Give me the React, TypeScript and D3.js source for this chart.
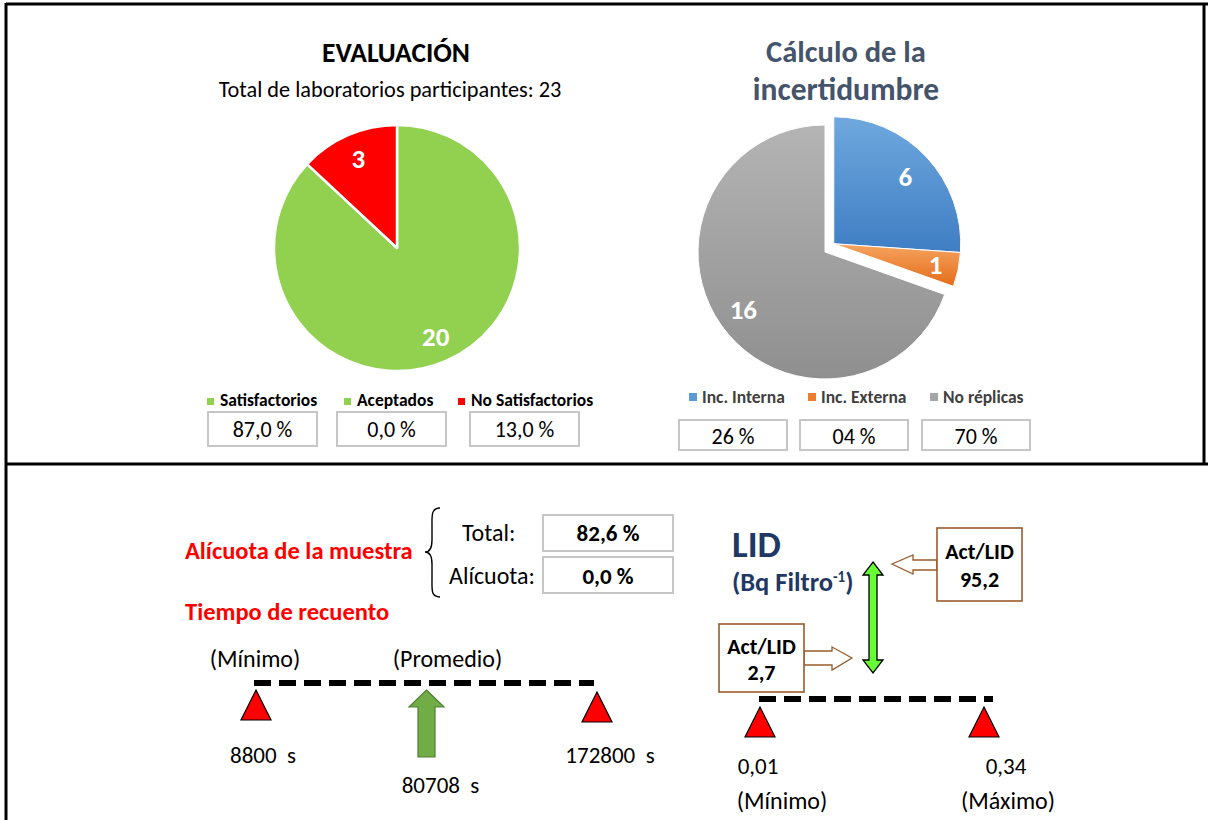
import React from 'react'
import * as d3 from 'd3'

const FONT = 'Calibri, Carlito, Lato, sans-serif'

// Evaluación
const evalCategories = ['Satisfactorios', 'Aceptados', 'No Satisfactorios']
const evalCounts = [20, 0, 3]
const evalColors = ['#92d050', '#92d050', '#ff0000']
const evalPercents = ['87,0 %', '0,0 %', '13,0 %']

// Cálculo de la incertidumbre
const incCategories = ['Inc. Interna', 'Inc. Externa', 'No réplicas']
const incCounts = [6, 1, 16]
const incColors = [['#6fa8de', '#3f7ec4'], ['#f6a460', '#e46c1a'], ['#b4b4b4', '#8f8f8f']]
const incLegend = ['#5b9bd5', '#ed7d31', '#a5a5a5']
const incPercents = ['26 %', '04 %', '70 %']

// Alícuota de la muestra
const aliquotLabels = ['Total:', 'Alícuota:']
const aliquotValues = ['82,6 %', '0,0 %']

// Tiempo de recuento
const timeKeys = ['Mínimo', 'Promedio', 'Máximo']
const timeValues = [8800, 80708, 172800]
const timeTitles = ['(Mínimo)', '(Promedio)', '']

// LID
const lidNumbers = [0.01, 0.34]
const lidLabels = ['0,01', '0,34']
const lidTitles = ['(Mínimo)', '(Máximo)']
const actLidValues = ['2,7', '95,2']

const NAVY = '#1f3864'
const BROWN = '#9a5a2a'

const App = () => {
  const pie = d3.pie<number>().sort(null).value(d => d)

  // pie 1
  const c1 = { x: 397, y: 248 }
  const r1 = 123
  const arc1 = d3.arc<d3.PieArcDatum<number>>().innerRadius(0).outerRadius(r1)
  const lab1 = d3.arc<d3.PieArcDatum<number>>().innerRadius(97).outerRadius(97)
  const evalArcs = pie(evalCounts)
  const total = d3.sum(evalCounts)

  // pie 2
  const c2 = { x: 825, y: 252 }
  const r2 = 127
  const arc2 = d3.arc<d3.PieArcDatum<number>>().innerRadius(0).outerRadius(r2)
  const incArcs = pie(incCounts)
  const mid0 = (incArcs[0].startAngle + incArcs[0].endAngle) / 2
  const explode = { dx: Math.sin(mid0) * 12, dy: -Math.cos(mid0) * 12 }
  const lab2r = [98, 104, 100]

  // time scale (schematic)
  const xTime = d3.scalePoint<string>().domain(timeKeys).range([256, 597])
  const timeY = 683
  const timeDx = [7, 14, 13]
  const timeLy = [763, 793, 763]
  const titleDx = [-1, 21, 0]

  // LID scale
  const xLid = d3.scaleLinear().domain([lidNumbers[0], lidNumbers[1]]).range([760, 984])
  const lidY = 699
  const lidDx = [-2, 22]

  const tri = (x: number, top: number) => `M${x},${top} L${x + 15},${top + 30} L${x - 15},${top + 30} Z`

  const px = xTime('Promedio') as number
  const upArrow = `M${px},690 L${px + 17.5},707 L${px + 8.5},707 L${px + 8.5},757 L${px - 8.5},757 L${px - 8.5},707 L${px - 17.5},707 Z`

  const dax = 873, dTop = 562, dBot = 673
  const dblArrow = `M${dax},${dTop} L${dax + 10},${dTop + 13} L${dax + 4},${dTop + 13} L${dax + 4},${dBot - 13} L${dax + 10},${dBot - 13} L${dax},${dBot} L${dax - 10},${dBot - 13} L${dax - 4},${dBot - 13} L${dax - 4},${dTop + 13} L${dax - 10},${dTop + 13} Z`

  const leftArrow = 'M892,564 L913,555 L913,560 L937,560 L937,570 L913,570 L913,574 Z'
  const rightArrow = 'M852,658 L832,647 L832,651 L804,651 L804,665 L832,665 L832,670 Z'

  const legend1X = [207, 344, 458]
  const box1X = [208, 337, 470]
  const legend2X = [689, 808, 930]
  const box2X = [679, 800, 922]

  return (
    <svg width={1208} height={820} style={{ position: 'absolute', left: 0, top: 0, background: '#fff' }} fontFamily={FONT}>
      <defs>
        {incColors.map((c, i) => (
          <linearGradient key={i} id={`g${i}`} x1="0" y1="0" x2="0" y2="1">
            <stop offset="0" stopColor={c[0]} />
            <stop offset="1" stopColor={c[1]} />
          </linearGradient>
        ))}
      </defs>

      {/* frame */}
      <g stroke="#000" strokeWidth={3}>
        <line x1={6} y1={4} x2={1208} y2={4} />
        <line x1={6} y1={3} x2={6} y2={820} />
        <line x1={1204} y1={3} x2={1204} y2={464} />
        <line x1={6} y1={464} x2={1208} y2={464} />
      </g>

      {/* EVALUACIÓN */}
      <text x={396} y={62} textAnchor="middle" fontSize={27.5} fontWeight="bold" fill="#000">EVALUACIÓN</text>
      <text x={390} y={97} textAnchor="middle" fontSize={22.3} fill="#000">Total de laboratorios participantes: {total}</text>
      <g transform={`translate(${c1.x},${c1.y})`}>
        {evalArcs.filter(d => d.value > 0).map(d => (
          <path key={d.index} d={arc1(d) as string} fill={evalColors[d.index]} stroke="#fff" strokeWidth={2.5} strokeLinejoin="round" />
        ))}
        {evalArcs.filter(d => d.value > 0).map(d => {
          const [lx, ly] = lab1.centroid(d)
          return (
            <text key={d.index} x={lx} y={ly} textAnchor="middle" dy="0.35em" fontSize={27} fontWeight="bold" fill="#fff">{d.value}</text>
          )
        })}
      </g>
      {evalCategories.map((c, i) => (
        <g key={c}>
          <rect x={legend1X[i]} y={398} width={7} height={7} fill={evalColors[i]} />
          <text x={legend1X[i] + 13} y={406} fontSize={17.5} fontWeight="bold" fill="#000">{c}</text>
          <rect x={box1X[i]} y={412} width={109} height={34} fill="#fff" stroke="#c6c6c6" strokeWidth={2} />
          <text x={box1X[i] + 54.5} y={437} textAnchor="middle" fontSize={22} fill="#000">{evalPercents[i]}</text>
        </g>
      ))}

      {/* Cálculo de la incertidumbre */}
      <text x={846} y={62} textAnchor="middle" fontSize={30.5} fontWeight="bold" fill="#44546a">Cálculo de la</text>
      <text x={846} y={100} textAnchor="middle" fontSize={31.5} fontWeight="bold" fill="#44546a">incertidumbre</text>
      <g transform={`translate(${c2.x},${c2.y})`}>
        {incArcs.map(d => {
          const off = d.index < 2 ? explode : { dx: 0, dy: 0 }
          return (
            <path key={d.index} transform={`translate(${off.dx},${off.dy})`} d={arc2(d) as string} fill={`url(#g${d.index})`} stroke="#fff" strokeWidth={1} />
          )
        })}
        {incArcs.map(d => {
          const off = d.index < 2 ? explode : { dx: 0, dy: 0 }
          const a = (d.startAngle + d.endAngle) / 2
          const r = lab2r[d.index]
          return (
            <text key={d.index} x={Math.sin(a) * r + off.dx} y={-Math.cos(a) * r + off.dy} textAnchor="middle" dy="0.35em" fontSize={27} fontWeight="bold" fill="#fff">{d.value}</text>
          )
        })}
      </g>
      {incCategories.map((c, i) => (
        <g key={c}>
          <rect x={legend2X[i]} y={393} width={8} height={8} fill={incLegend[i]} />
          <text x={legend2X[i] + 13} y={403} fontSize={17.5} fontWeight="bold" fill="#404040">{c}</text>
          <rect x={box2X[i]} y={420} width={108} height={30} fill="#fff" stroke="#c6c6c6" strokeWidth={2} />
          <text x={box2X[i] + 54} y={444} textAnchor="middle" fontSize={22} fill="#000">{incPercents[i]}</text>
        </g>
      ))}

      {/* Alícuota de la muestra */}
      <text x={185} y={559} fontSize={24.5} fontWeight="bold" fill="#ff0000">Alícuota de la muestra</text>
      <path d="M440,508 C431,508 432,516 432,526 L432,540 C432,548 430,552 425,552 C430,552 432,556 432,564 L432,580 C432,590 431,597 440,597" fill="none" stroke="#000" strokeWidth={1.4} />
      {aliquotLabels.map((l, i) => (
        <g key={l}>
          <text x={[462, 449][i]} y={[541, 584][i]} fontSize={24} fill="#000">{l}</text>
          <rect x={543} y={[515, 557][i]} width={130} height={36} fill="#fff" stroke="#c6c6c6" strokeWidth={2} />
          <text x={608} y={[541, 584][i]} textAnchor="middle" fontSize={23} fontWeight="bold" fill="#000">{aliquotValues[i]}</text>
        </g>
      ))}

      {/* Tiempo de recuento */}
      <text x={185} y={620} fontSize={24.5} fontWeight="bold" fill="#ff0000">Tiempo de recuento</text>
      <line x1={254} y1={timeY} x2={594} y2={timeY} stroke="#000" strokeWidth={6} strokeDasharray="17 8" />
      {timeKeys.map((k, i) => {
        const x = xTime(k) as number
        return (
          <g key={k}>
            {timeTitles[i] && <text x={x + titleDx[i]} y={667} textAnchor="middle" fontSize={24} fill="#000">{timeTitles[i]}</text>}
            {k !== 'Promedio' && <path d={tri(x, k === 'Mínimo' ? 690 : 692)} fill="#ff0000" stroke="#000" strokeWidth={1.2} />}
            <text x={x + timeDx[i]} y={timeLy[i]} textAnchor="middle" fontSize={23} fill="#000" style={{ whiteSpace: 'pre' }}>{`${timeValues[i]}  s`}</text>
          </g>
        )
      })}
      <path d={upArrow} fill="#70ad47" stroke="#507e32" strokeWidth={1.2} />

      {/* LID */}
      <text x={732} y={557} fontSize={37} fontWeight="bold" fill={NAVY}>LID</text>
      <text x={732} y={591} fontSize={26.5} fontWeight="bold" fill={NAVY}>
        (Bq Filtro<tspan fontSize={15} dy={-9}>-1</tspan><tspan dy={9}>)</tspan>
      </text>
      <path d={dblArrow} fill="#66ff33" stroke="#000" strokeWidth={1.3} />
      <path d={leftArrow} fill="#fff" stroke={BROWN} strokeWidth={1.3} />
      <path d={rightArrow} fill="#fff" stroke={BROWN} strokeWidth={1.3} />
      <rect x={937} y={528} width={85} height={73} fill="#fff" stroke={BROWN} strokeWidth={1.6} />
      <text x={979.5} y={559} textAnchor="middle" fontSize={22} fontWeight="bold" fill="#000">Act/LID</text>
      <text x={979.5} y={587} textAnchor="middle" fontSize={22} fontWeight="bold" fill="#000">{actLidValues[1]}</text>
      <rect x={719} y={624} width={85} height={68} fill="#fff" stroke={BROWN} strokeWidth={1.6} />
      <text x={761.5} y={654} textAnchor="middle" fontSize={22} fontWeight="bold" fill="#000">Act/LID</text>
      <text x={761.5} y={680} textAnchor="middle" fontSize={22} fontWeight="bold" fill="#000">{actLidValues[0]}</text>
      <line x1={xLid(lidNumbers[0]) - 1} y1={lidY} x2={xLid(lidNumbers[1]) + 9} y2={lidY} stroke="#000" strokeWidth={6} strokeDasharray="17 8" />
      {lidNumbers.map((v, i) => {
        const x = xLid(v)
        return (
          <g key={i}>
            <path d={tri(x, 707)} fill="#ff0000" stroke="#000" strokeWidth={1.2} />
            <text x={x + lidDx[i]} y={774} textAnchor="middle" fontSize={23} fill="#000">{lidLabels[i]}</text>
            <text x={x + [22, 24][i]} y={809} textAnchor="middle" fontSize={24} fill="#000">{lidTitles[i]}</text>
          </g>
        )
      })}
    </svg>
  )
}

export default App
